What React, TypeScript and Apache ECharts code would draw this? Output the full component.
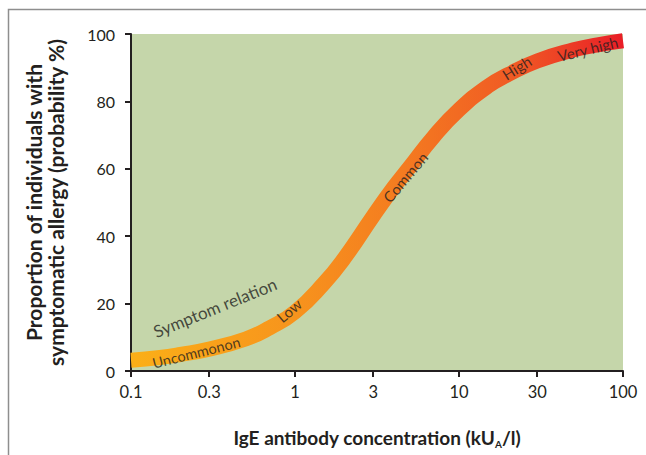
import React, { useEffect, useRef } from "react";
import * as echarts from "echarts";

const xTicks = [0.1, 0.3, 1, 3, 10, 30, 100];
const yTicks = [0, 20, 40, 60, 80, 100];
const concentration = [0.1, 0.15, 0.2, 0.3, 0.5, 0.7, 1, 1.5, 2, 3, 4, 5, 7, 10, 15, 20, 30, 50, 70, 100];
const probability = [3.2, 4, 4.9, 6.5, 9.5, 12.8, 17.5, 26, 33.5, 46, 54.5, 60.5, 69.5, 77.5, 84.5, 88, 92, 95.3, 96.8, 98];

const labelNames = ["Symptom relation", "Uncommonon", "Low", "Common", "High", "Very high"];
const labelX = [0.325, 0.25, 0.92, 4.7, 22.5, 61];
const labelY = [18.8, 5.5, 18, 57.5, 90, 95.6];
const labelRotate = [22, 14, 40, 50, 32, 14];
const labelSize = [17, 14.5, 15, 15, 15, 15];

const FONT = "Lato, 'Open Sans', sans-serif";
const INK = "#231F20";

export default function App() {
  const ref = useRef<HTMLDivElement>(null);
  useEffect(() => {
    if (!ref.current) return;
    const chart = echarts.init(ref.current, null, { renderer: "svg" });
    const band = concentration.map((x, i) => [x, probability[i]]);
    const labels = labelNames.map((n, i) => ({
      name: n,
      value: [labelX[i], labelY[i]],
      label: { rotate: labelRotate[i], fontSize: labelSize[i] },
    }));
    chart.setOption({
      animation: false,
      textStyle: { fontFamily: FONT },
      graphic: [
        {
          type: "rect",
          shape: { x: 8.5, y: 9.5, width: 700, height: 500 },
          style: { fill: "none", stroke: "#8E8E8E", lineWidth: 1.5 },
          silent: true,
        },
      ],
      grid: {
        left: 131,
        right: 23,
        top: 34,
        bottom: 84,
        show: true,
        backgroundColor: "#C5D6AA",
        borderWidth: 0,
        outerBoundsMode: "none",
      },
      xAxis: {
        type: "log",
        logBase: 10,
        min: 0.1,
        max: 100,
        name: "{b|IgE antibody concentration (kU}{s|A}{b|/l)}",
        nameLocation: "middle",
        nameGap: 54,
        nameTextStyle: {
          rich: {
            b: { fontSize: 19, fontWeight: "bold", color: INK, fontFamily: FONT, lineHeight: 24, verticalAlign: "middle" },
            s: { fontSize: 10, fontWeight: "bold", color: INK, fontFamily: FONT, lineHeight: 8, verticalAlign: "bottom" },
          },
        },
        axisLine: { show: true, lineStyle: { color: INK, width: 2 } },
        axisTick: { show: true, length: 6, lineStyle: { color: INK, width: 2 }, customValues: xTicks },
        axisLabel: {
          customValues: xTicks,
          formatter: (v: number) => String(v),
          fontSize: 16.5,
          color: INK,
          margin: 12,
          fontFamily: FONT,
        },
        splitLine: { show: false },
        minorTick: { show: false },
      },
      yAxis: {
        type: "value",
        min: 0,
        max: 100,
        interval: 20,
        name: "Proportion of individuals with\nsymptomatic allergy (probability %)",
        nameLocation: "middle",
        nameRotate: 90,
        nameGap: 65,
        nameTextStyle: { fontSize: 21, fontWeight: "bold", color: INK, lineHeight: 22, fontFamily: FONT },
        axisLine: { show: true, lineStyle: { color: INK, width: 2 } },
        axisTick: { show: true, length: 6, lineStyle: { color: INK, width: 2 } },
        axisLabel: {
          fontSize: 16,
          color: INK,
          margin: 16,
          fontFamily: FONT,
          customValues: yTicks,
        },
        splitLine: { show: false },
      },
      series: [
        {
          type: "line",
          data: band,
          smooth: 0.5,
          showSymbol: false,
          symbol: "none",
          silent: true,
          z: 2,
          lineStyle: {
            width: 15,
            cap: "butt",
            color: new echarts.graphic.LinearGradient(0, 0, 1, 0, [
              { offset: 0, color: "#FBAF17" },
              { offset: 0.33, color: "#F7941D" },
              { offset: 0.55, color: "#F47B20" },
              { offset: 0.78, color: "#F05A24" },
              { offset: 1, color: "#E91E27" },
            ]),
          },
        },
        {
          type: "scatter",
          data: labels,
          symbolSize: 0,
          silent: true,
          z: 5,
          label: {
            show: true,
            position: "inside",
            formatter: "{b}",
            color: INK,
            fontFamily: FONT,
          },
        },
      ],
    });
    return () => chart.dispose();
  }, []);
  return (
    <div
      ref={ref}
      style={{ position: "fixed", left: 0, top: 0, width: 646, height: 455, background: "#fff" }}
    />
  );
}
